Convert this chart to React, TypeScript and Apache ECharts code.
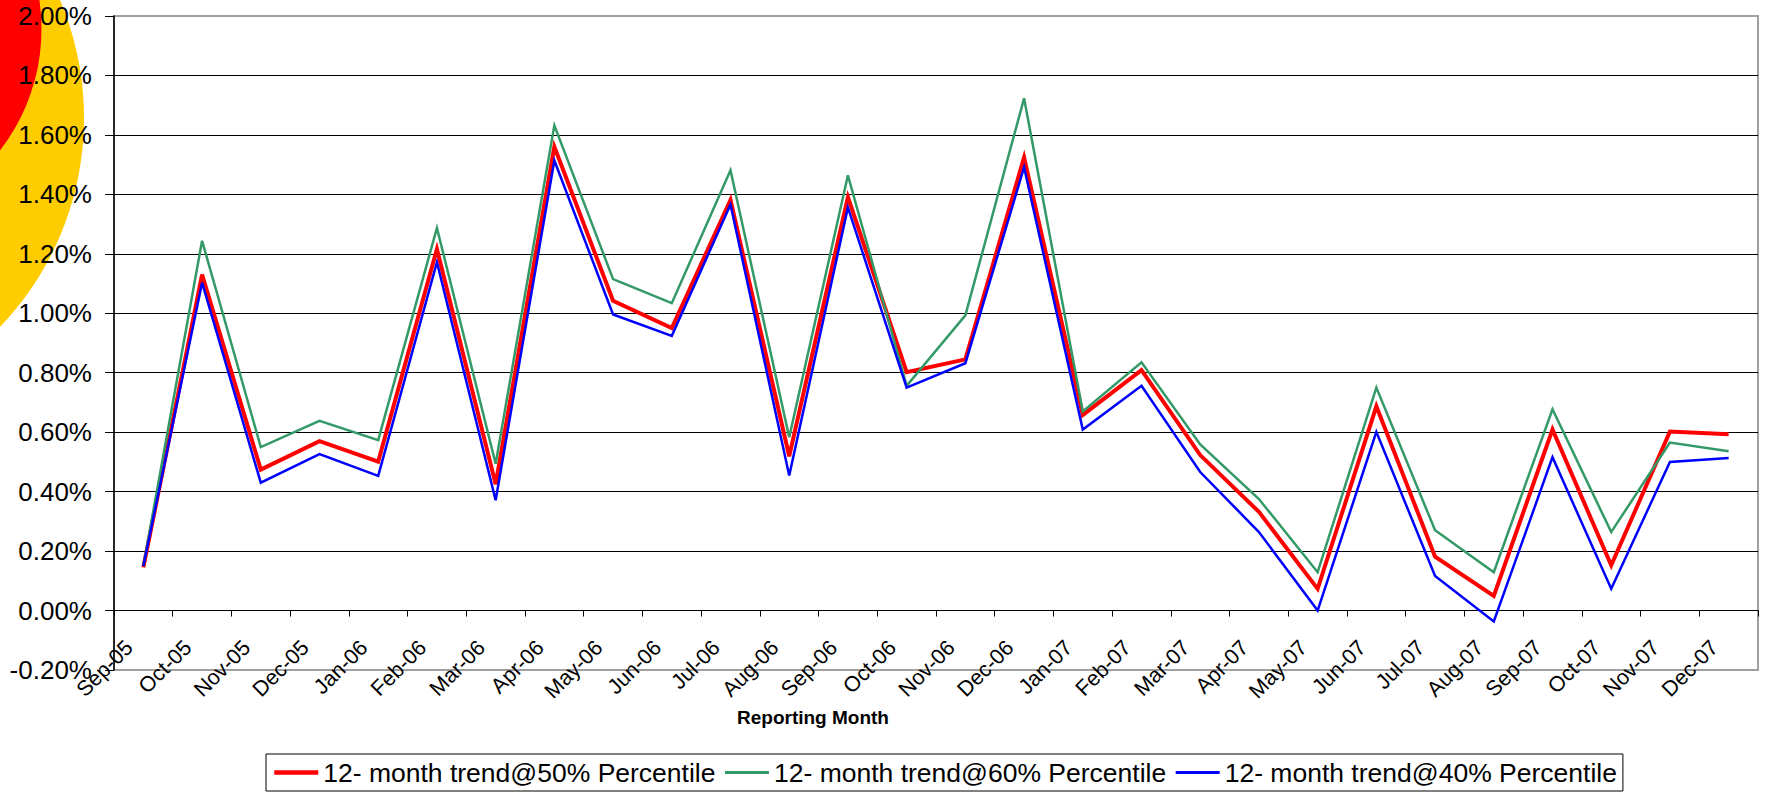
import React, { useEffect, useRef } from "react";
import * as echarts from "echarts";

const months = [
  "Sep-05", "Oct-05", "Nov-05", "Dec-05", "Jan-06", "Feb-06", "Mar-06", "Apr-06",
  "May-06", "Jun-06", "Jul-06", "Aug-06", "Sep-06", "Oct-06", "Nov-06", "Dec-06",
  "Jan-07", "Feb-07", "Mar-07", "Apr-07", "May-07", "Jun-07", "Jul-07", "Aug-07",
  "Sep-07", "Oct-07", "Nov-07", "Dec-07",
];

const p50 = [
  0.145, 1.13, 0.474, 0.57, 0.501, 1.216, 0.425, 1.56, 1.042, 0.95, 1.381, 0.519,
  1.391, 0.802, 0.845, 1.524, 0.658, 0.809, 0.523, 0.332, 0.073, 0.687, 0.181,
  0.049, 0.609, 0.152, 0.602, 0.593,
];
const p60 = [
  0.15, 1.244, 0.55, 0.638, 0.573, 1.287, 0.494, 1.632, 1.115, 1.034, 1.481, 0.583,
  1.464, 0.756, 0.993, 1.723, 0.67, 0.835, 0.559, 0.375, 0.129, 0.75, 0.27, 0.129,
  0.677, 0.264, 0.565, 0.536,
];
const p40 = [
  0.15, 1.103, 0.43, 0.526, 0.453, 1.172, 0.371, 1.514, 0.996, 0.924, 1.366, 0.454,
  1.356, 0.75, 0.832, 1.491, 0.609, 0.756, 0.466, 0.264, 0.0, 0.601, 0.116, -0.037,
  0.516, 0.073, 0.5, 0.513,
];

const seriesNames = [
  "12- month trend@50% Percentile",
  "12- month trend@60% Percentile",
  "12- month trend@40% Percentile",
];
const seriesColors = ["#FF0000", "#339966", "#0000FF"];
const seriesWidths = [4, 2.5, 2.5];
const legendWidths = [4.5, 3, 3];

const FONT = "'Liberation Sans', Arial, sans-serif";

export default function App() {
  const ref = useRef<HTMLDivElement>(null);

  useEffect(() => {
    if (!ref.current) return;
    const chart = echarts.init(ref.current, null, { renderer: "svg" });
    const allData = [p50, p60, p40];
    const series = seriesNames.map((name, i) => ({
      name,
      type: "line",
      data: allData[i],
      xAxisIndex: 0,
      yAxisIndex: 0,
      symbol: "none",
      showSymbol: false,
      lineStyle: { color: seriesColors[i], width: seriesWidths[i], join: "miter", miterLimit: 10 },
      itemStyle: { color: seriesColors[i] },
      emphasis: { disabled: true },
    }));
    chart.setOption({
      animation: false,
      backgroundColor: "#ffffff",
      graphic: {
        elements: [
          {
            type: "circle",
            z: -10,
            silent: true,
            shape: { cx: -218, cy: 118, r: 302 },
            style: { fill: "#FFCC00" },
          },
          {
            type: "circle",
            z: -9,
            silent: true,
            shape: { cx: -157, cy: 29, r: 198.5 },
            style: { fill: "#FF0000" },
          },
          {
            type: "text",
            x: 813,
            y: 717,
            silent: true,
            style: {
              text: "Reporting Month",
              fill: "#000",
              font: `bold 19px ${FONT}`,
              align: "center",
              verticalAlign: "middle",
            },
          },
        ],
      },
      grid: {
        left: 114,
        right: 8,
        top: 16,
        bottom: 124,
        show: true,
        borderColor: "#a0a0a0",
        borderWidth: 2,
        backgroundColor: "transparent",
        outerBoundsMode: "none",
      },
      legend: {
        show: true,
        left: 266,
        top: 754,
        orient: "horizontal",
        padding: [5, 6],
        itemGap: 8,
        itemWidth: 44,
        itemHeight: 28,
        borderColor: "#000",
        borderWidth: 1,
        backgroundColor: "#fff",
        selectedMode: false,
        itemStyle: { opacity: 0 },
        data: seriesNames.map((name, i) => ({
          name,
          lineStyle: { color: seriesColors[i], width: legendWidths[i] },
        })),
        textStyle: { color: "#000", fontSize: 26.5, fontFamily: FONT },
      },
      xAxis: [
        {
          type: "category",
          data: months,
          boundaryGap: true,
          axisLine: { show: true, onZero: true, lineStyle: { color: "#000", width: 1 } },
          axisTick: { show: true, inside: false, length: 6, interval: 0, lineStyle: { color: "#000" } },
          axisLabel: { show: false },
          splitLine: { show: false },
        },
        {
          type: "category",
          data: months,
          position: "bottom",
          boundaryGap: true,
          axisLine: { show: false, onZero: false },
          axisTick: { show: false },
          splitLine: { show: false },
          axisLabel: {
            show: true,
            interval: 0,
            rotate: 45,
            margin: -40,
            padding: [0, 20, 0, 0],
            color: "#000",
            fontSize: 21.5,
            fontFamily: FONT,
            hideOverlap: false,
          },
        },
      ],
      yAxis: {
        type: "value",
        min: -0.2,
        max: 2.0,
        interval: 0.2,
        axisLine: { show: true, lineStyle: { color: "#000", width: 1.5 } },
        axisTick: { show: true, inside: false, length: 9, lineStyle: { color: "#000" } },
        axisLabel: {
          color: "#000",
          fontSize: 26,
          fontFamily: FONT,
          margin: 22,
          formatter: (v: number) => v.toFixed(2) + "%",
        },
        splitLine: {
          show: true,
          showMinLine: false,
          showMaxLine: false,
          lineStyle: { color: "#000", width: 1 },
        },
      },
      series,
    });
    return () => {
      chart.dispose();
    };
  }, []);

  return (
    <div
      ref={ref}
      style={{ position: "fixed", left: 0, top: 0, width: 1766, height: 794 }}
    />
  );
}
